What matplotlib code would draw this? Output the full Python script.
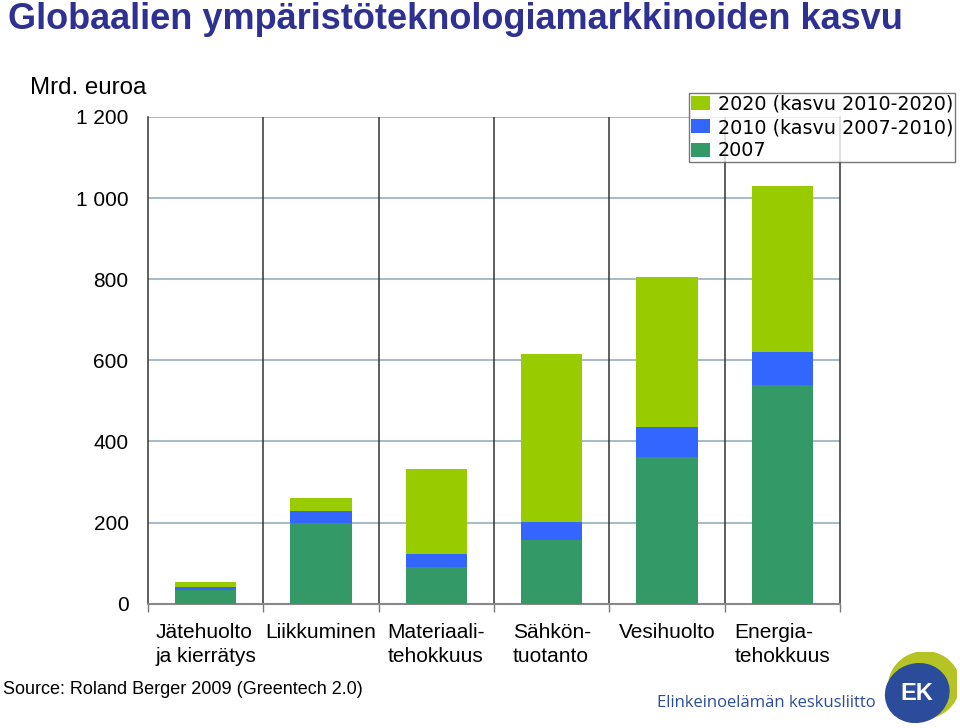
import matplotlib
matplotlib.use("Agg")
import matplotlib.pyplot as plt
from matplotlib.patches import Ellipse
import numpy as np

plt.rcParams['font.family'] = ['Liberation Sans', 'DejaVu Sans']

# data (Mrd. euroa)
categories = ["Jätehuolto\nja kierrätys", "Liikkuminen", "Materiaali-\ntehokkuus",
              "Sähkön-\ntuotanto", "Vesihuolto", "Energia-\ntehokkuus"]
v2007 = [35, 198, 91, 156, 361, 538]
v2010 = [40, 228, 123, 202, 435, 620]
v2020 = [54, 261, 333, 616, 806, 1031]

series_labels = ["2007", "2010 (kasvu 2007-2010)", "2020 (kasvu 2010-2020)"]
colors = ["#339966", "#3366FF", "#99CC00"]

base = np.array(v2007)
grow10 = np.array(v2010) - base
grow20 = np.array(v2020) - np.array(v2010)

fig = plt.figure(figsize=(9.6, 7.28), dpi=100)
ax = fig.add_axes([148/960, 1-603.7/728, (840-148)/960, (603.7-117)/728])

x = np.arange(len(categories))
w = 0.53
b1 = ax.bar(x, base, w, color=colors[0], label=series_labels[0], zorder=3)
b2 = ax.bar(x, grow10, w, bottom=base, color=colors[1], label=series_labels[1], zorder=3)
b3 = ax.bar(x, grow20, w, bottom=np.array(v2010), color=colors[2], label=series_labels[2], zorder=3)

ax.set_xlim(-0.5, len(categories) - 0.5)
ax.set_ylim(0, 1200)
ax.set_yticks(range(0, 1201, 200))
ax.set_yticklabels(["0", "200", "400", "600", "800", "1 000", "1 200"])
ax.tick_params(axis='y', length=0, pad=14, labelsize=15)

ax.set_xticks(x)
ax.set_xticklabels(categories, fontsize=15, multialignment='left', linespacing=1.3)
ax.tick_params(axis='x', length=0, pad=14)
ax.set_xticks(np.arange(-0.5, len(categories)), minor=True)
ax.tick_params(axis='x', which='minor', length=6, color='#777777', width=1)

for yv in range(200, 1201, 200):
    ax.axhline(yv, color='#8CA8B8', lw=1.1, zorder=1)
for xv in np.arange(0.5, len(categories) - 0.5):
    ax.axvline(xv, color='#333333', lw=1.1, zorder=1)

ax.spines['top'].set_visible(False)
ax.spines['left'].set_color('#333333')
ax.spines['right'].set_color('#333333')
ax.spines['bottom'].set_color('#888888')
ax.spines['bottom'].set_linewidth(1.5)
for s in ['left', 'right']:
    ax.spines[s].set_linewidth(1.1)

leg = fig.legend([b3, b2, b1], [series_labels[2], series_labels[1], series_labels[0]],
                 loc='upper right', bbox_to_anchor=(955/960, 1-93/728),
                 prop={'family': 'DejaVu Sans', 'size': 13.8},
                 frameon=True, fancybox=False, borderpad=0.1, labelspacing=0.22,
                 handlelength=1.0, handleheight=0.75, handletextpad=0.4,
                 borderaxespad=0)
leg.get_frame().set_edgecolor('#555555')
leg.get_frame().set_linewidth(1.0)

fig.text(8/960, 1-2/728, "Globaalien ympäristöteknologiamarkkinoiden kasvu",
         fontsize=26, fontweight='bold', color='#2E3192', va='top', ha='left',
         family=['Liberation Sans Narrow', 'Liberation Sans'])
fig.text(30/960, 1-88/728, "Mrd. euroa", fontsize=17.4, va='center', ha='left')
fig.text(3/960, 1-690/728, "Source: Roland Berger 2009 (Greentech 2.0)",
         fontsize=13, va='center', ha='left')

# EK logo
fig.text(876/960, 1-703/728, "Elinkeinoelämän keskusliitto", fontsize=12,
         color='#2B4C9B', va='center', ha='right', family=['Open Sans', 'DejaVu Sans'])
lax = fig.add_axes([882/960, 4/728, 75/960, 72/728])
lax.set_xlim(0, 1)
lax.set_ylim(0, 1)
lax.axis('off')
lax.add_patch(Ellipse((0.56, 0.54), 0.95, 0.92, angle=30, color='#B5C424'))
lax.add_patch(Ellipse((0.47, 0.43), 0.86, 0.8, angle=30, color='#2B4C9B'))
lax.text(0.47, 0.43, "EK", color='white', fontsize=17, fontweight='bold',
         ha='center', va='center')

fig.savefig("out.png", dpi=100)
